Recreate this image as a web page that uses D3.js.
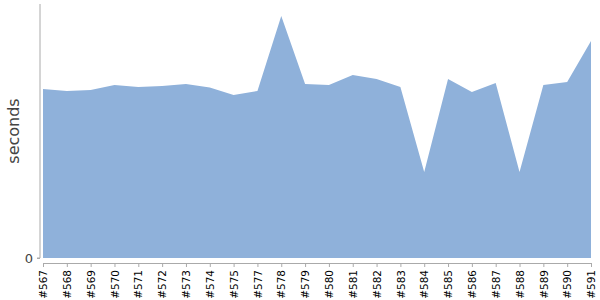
<!DOCTYPE html>
<html lang="en">
<head>
  <meta charset="utf-8">
  <script src="https://d3js.org/d3.v7.min.js"></script>
  <style>
  body { margin: 0; }
  text { font-family: "DejaVu Sans", sans-serif; }
  </style>
</head>
<body>
  <script>
    // build ids and run time per build (seconds)
    var builds = ['#567', '#568', '#569', '#570', '#571', '#572', '#573', '#574', '#575', '#577',
                  '#578', '#579', '#580', '#581', '#582', '#583', '#584', '#585', '#586', '#587',
                  '#588', '#589', '#590', '#591'];
    var seconds = [169, 167, 168, 173, 171, 172, 174, 170.5, 163, 167,
                   242, 174, 173, 183, 179, 171, 86, 179, 166, 175,
                   86, 173, 176, 217];
    var yTicks = [0];

    var w = 600;
    var h = 300;

    var data = builds.map(function(b, i) { return {build: b, secs: seconds[i]}; });

    var x = d3.scalePoint()
      .domain(builds)
      .range([43, 591]);

    var y = d3.scaleLinear()
      .domain([0, 254])
      .range([258, 4]);

    var svg = d3.select('body')
      .append('svg')
      .attr('width', w)
      .attr('height', h);

    var area = d3.area()
      .x(function(d) { return x(d.build); })
      .y0(y(0))
      .y1(function(d) { return y(d.secs); });

    svg.append('path')
      .datum(data)
      .attr('d', area)
      .attr('fill', '#8fb1da');

    // y axis, pulled a little left of the area
    var yAxis = svg.append('g')
      .attr('transform', 'translate(40,0)')
      .call(d3.axisLeft(y).tickValues(yTicks).tickSize(3).tickPadding(4));
    yAxis.select('.domain').attr('stroke', '#aaa').attr('d', 'M-3,' + y(0) + 'H0V4');
    yAxis.selectAll('.tick line').attr('stroke', '#aaa');
    yAxis.selectAll('.tick text')
      .attr('font-size', 13)
      .attr('fill', '#444')
      .attr('font-family', '"DejaVu Sans", sans-serif');

    // x axis sits a few px below the baseline
    var xAxis = svg.append('g')
      .attr('transform', 'translate(0,263)')
      .call(d3.axisBottom(x).tickSize(4).tickSizeOuter(0));
    xAxis.select('.domain').attr('stroke', '#aaa');
    xAxis.selectAll('.tick line').attr('stroke', '#aaa');
    xAxis.selectAll('.tick text')
      .attr('font-size', 10.5)
      .attr('fill', '#000')
      .attr('font-family', '"DejaVu Sans", sans-serif')
      .attr('text-anchor', 'end')
      .attr('dy', '0.35em')
      .attr('transform', 'translate(0,3) rotate(-90)')
      .attr('x', -4)
      .attr('y', 0);

    svg.append('text')
      .attr('transform', 'translate(19,131) rotate(-90)')
      .attr('text-anchor', 'middle')
      .attr('font-size', 16)
      .attr('fill', '#444')
      .text('seconds');
  </script>
</body>
</html>
